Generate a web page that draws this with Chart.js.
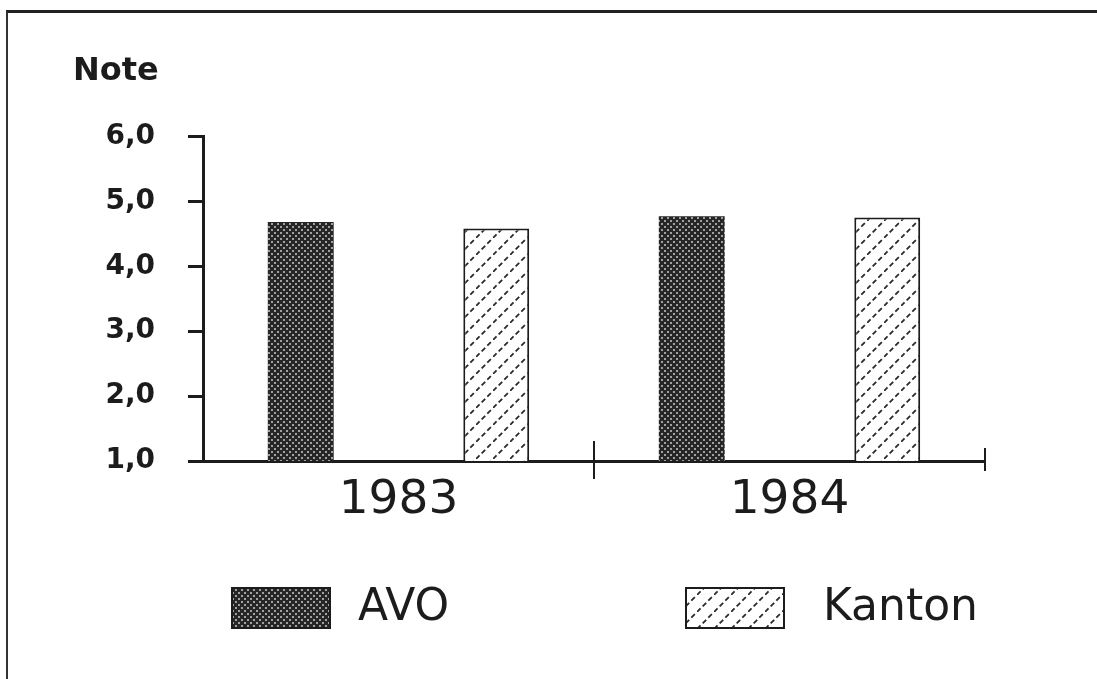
<!DOCTYPE html>
<html>
<head>
<meta charset="utf-8">
<script src="https://cdn.jsdelivr.net/npm/chart.js@4/dist/chart.umd.min.js"></script>
<style>
  html, body { margin: 0; padding: 0; background: #fff; overflow: hidden; }
  #frame { position: absolute; left: 6px; top: 10px; width: 1200px; height: 800px;
           border-top: 3px solid #222; border-left: 2px solid #333; }
  #wrap { position: absolute; left: 0; top: 0; width: 1097px; height: 679px; }
</style>
</head>
<body>
<div id="frame"></div>
<div id="wrap"><canvas id="noteChart"></canvas></div>
<script>
// Daten
const categories = ['1983', '1984'];
const seriesNames = ['AVO', 'Kanton'];
const avoValues = [4.68, 4.77];
const kantonValues = [4.58, 4.75];
const yTickLabels = ['1,0', '2,0', '3,0', '4,0', '5,0', '6,0'];

const ink = '#1c1c1c';
const font = 'DejaVu Sans';

// Punktraster fuer AVO
function dotPattern(ctx) {
    const c = document.createElement('canvas');
    c.width = 6; c.height = 6;
    const g = c.getContext('2d');
    g.fillStyle = '#262626';
    g.fillRect(0, 0, 6, 6);
    g.fillStyle = '#a0a0a0';
    g.fillRect(1, 1, 2, 2);
    g.fillRect(4, 4, 2, 2);
    return ctx.createPattern(c, 'repeat');
}

// Schraffur fuer Kanton
function hatchPattern(ctx) {
    const c = document.createElement('canvas');
    c.width = 17; c.height = 17;
    const g = c.getContext('2d');
    g.fillStyle = '#fff';
    g.fillRect(0, 0, 17, 17);
    g.strokeStyle = '#2a2a2a';
    g.lineWidth = 1.8;
    g.setLineDash([5, 3]);
    g.beginPath();
    g.moveTo(0, 17); g.lineTo(17, 0);
    g.stroke();
    return ctx.createPattern(c, 'repeat');
}

const ctx = document.getElementById('noteChart').getContext('2d');
const avoFill = dotPattern(ctx);
const kantonFill = hatchPattern(ctx);

// Striche an den Kategoriegrenzen der x-Achse
const axisTicks = {
    id: 'axisTicks',
    afterDatasetsDraw(chart) {
        const xs = chart.scales.x;
        const y = chart.chartArea.bottom;
        const c = chart.ctx;
        c.save();
        c.strokeStyle = ink;
        c.lineWidth = 2;
        for (let i = 0; i < categories.length - 1; i++) {
            const bx = (xs.getPixelForTick(i) + xs.getPixelForTick(i + 1)) / 2;
            c.beginPath(); c.moveTo(bx, y - 20); c.lineTo(bx, y + 18); c.stroke();
        }
        c.beginPath(); c.moveTo(xs.right, y - 13); c.lineTo(xs.right, y + 10); c.stroke();
        c.restore();
    }
};

// Legende unten
const legendBoxes = {
    id: 'legendBoxes',
    afterDraw(chart) {
        const c = chart.ctx;
        const boxX = [232, 686];
        const textX = [358, 823];
        const top = 588, w = 98, h = 40;
        c.save();
        chart.data.datasets.forEach((ds, i) => {
            c.fillStyle = ds.backgroundColor;
            c.fillRect(boxX[i], top, w, h);
            c.strokeStyle = ink;
            c.lineWidth = 2;
            c.strokeRect(boxX[i], top, w, h);
            c.fillStyle = ink;
            c.font = '44px "' + font + '"';
            c.textBaseline = 'middle';
            c.fillText(ds.label, textX[i], top + h / 2 + 1);
        });
        c.restore();
    }
};

new Chart(ctx, {
    type: 'bar',
    data: {
        labels: categories,
        datasets: [{
            label: seriesNames[0],
            data: avoValues,
            backgroundColor: avoFill,
            borderColor: '#262626',
            borderWidth: 0,
            barPercentage: 0.337,
            categoryPercentage: 1.0
        }, {
            label: seriesNames[1],
            data: kantonValues,
            backgroundColor: kantonFill,
            borderColor: ink,
            borderWidth: 2,
            borderSkipped: false,
            barPercentage: 0.337,
            categoryPercentage: 1.0
        }]
    },
    options: {
        responsive: true,
        maintainAspectRatio: false,
        animation: false,
        events: [],
        layout: { padding: { left: 73, right: 112, top: 0, bottom: 0 } },
        plugins: {
            legend: { display: false },
            tooltip: { enabled: false },
            title: {
                display: true,
                text: 'Note',
                align: 'start',
                color: ink,
                font: { family: font, size: 32, weight: 'bold' },
                padding: { top: 52, bottom: 46 }
            }
        },
        scales: {
            x: {
                offset: true,
                grid: { display: false, drawTicks: false },
                border: { display: true, color: ink, width: 3 },
                ticks: {
                    color: ink,
                    padding: 12,
                    font: { family: font, size: 47 }
                },
                afterFit: function(scale) { scale.height = 218; }
            },
            y: {
                min: 1,
                max: 6,
                ticks: {
                    stepSize: 1,
                    color: ink,
                    padding: 33,
                    font: { family: font, size: 28, weight: 'bold' },
                    callback: function(value, index) { return yTickLabels[index]; }
                },
                grid: { drawOnChartArea: false, tickLength: 15, tickWidth: 3, tickColor: ink },
                border: { display: true, color: ink, width: 3 },
                afterFit: function(scale) { scale.width = 130; }
            }
        }
    },
    plugins: [axisTicks, legendBoxes]
});
</script>
</body>
</html>
